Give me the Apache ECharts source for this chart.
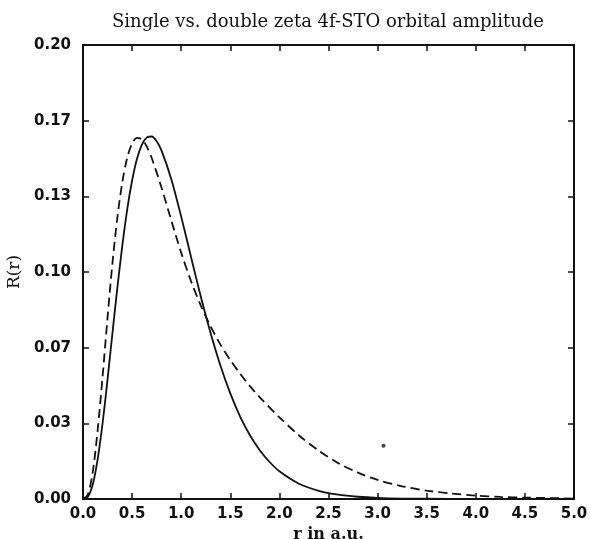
<!DOCTYPE html>
<html>
<head>
<meta charset="utf-8">
<script src="https://cdn.jsdelivr.net/npm/echarts@6/dist/echarts.min.js"></script>
<style>html,body{margin:0;padding:0;background:#fff;}#c{width:590px;height:539px;}</style>
</head>
<body>
<div id="c"></div>
<script>
// r values (a.u.)
var rSingle = [0,0.05,0.1,0.15,0.2,0.25,0.3,0.35,0.4,0.45,0.5,0.55,0.6,0.65,0.7,0.75,0.8,0.9,1.0,1.1,1.2,1.3,1.4,1.5,1.6,1.7,1.8,1.9,2.0,2.2,2.4,2.6,2.8,3.0,3.25,3.5,4.0,4.5,5.0];
var singleZeta = [0,0.0010,0.0065,0.0177,0.0336,0.0527,0.0731,0.0931,0.1115,0.1275,0.1403,0.1499,0.1561,0.1593,0.1597,0.1576,0.1535,0.1408,0.1244,0.1066,0.0891,0.0730,0.0587,0.0465,0.0363,0.0281,0.0215,0.0163,0.0122,0.0067,0.0036,0.0019,0.0010,0.0005,0.0002,0.0001,0.0000,0.0000,0.0000];
var rDouble = [0,0.05,0.1,0.15,0.2,0.25,0.3,0.35,0.4,0.45,0.5,0.55,0.6,0.65,0.7,0.8,0.9,1.0,1.1,1.2,1.3,1.4,1.5,1.6,1.7,1.8,2.0,2.2,2.4,2.6,2.8,3.0,3.25,3.5,3.75,4.0,4.25,4.5,4.75,5.0];
var doubleZeta = [0,0.0020,0.0121,0.0306,0.0542,0.0800,0.1040,0.1240,0.1395,0.1503,0.1566,0.1591,0.1584,0.1552,0.1502,0.1371,0.1226,0.1085,0.0960,0.0852,0.0760,0.0680,0.0612,0.0552,0.0497,0.0448,0.0360,0.0280,0.0213,0.0158,0.0116,0.0084,0.0056,0.0037,0.0024,0.0015,0.0009,0.0006,0.0004,0.0002];
var strayDot = [[3.06, 0.0235]];
var xTicks = ['0.0','0.5','1.0','1.5','2.0','2.5','3.0','3.5','4.0','4.5','5.0'];
var yTicks = ['0.00','0.03','0.07','0.10','0.13','0.17','0.20'];

function pairs(xs, ys){ return xs.map(function(x,i){ return [x, ys[i]]; }); }

var chart = echarts.init(document.getElementById('c'), null, {renderer:'canvas'});
var lab = {fontFamily:'DejaVu Sans', fontWeight:'bold', fontSize:15, color:'#111'};
var axisLine = {show:true, onZero:false, lineStyle:{color:'#111', width:2}};
var tick = {show:true, inside:true, length:6, lineStyle:{color:'#111', width:1.5}};
chart.setOption({
  animation:false,
  backgroundColor:'#fff',
  title:{text:'Single vs. double zeta 4f-STO orbital amplitude', left:323, top:8, textAlign:'center',
    textStyle:{fontFamily:'DejaVu Serif', fontWeight:'normal', fontSize:18, color:'#111'}},
  grid:{left:83, right:16, top:45, bottom:40, containLabel:false, outerBoundsMode:'none'},
  xAxis:[{type:'value', min:0, max:5, interval:0.5, position:'bottom',
      name:'r in a.u.', nameLocation:'middle', nameGap:22,
      nameTextStyle:{fontFamily:'DejaVu Serif', fontWeight:'bold', fontSize:16, color:'#111'},
      axisLine:axisLine, axisTick:tick, splitLine:{show:false},
      axisLabel:Object.assign({margin:8, formatter:function(v){ var i=Math.round(v/0.5); return xTicks[i]; }}, lab)},
    {type:'value', min:0, max:5, interval:0.5, position:'top',
      axisLine:axisLine, axisTick:tick, splitLine:{show:false}, axisLabel:{show:false}}],
  yAxis:[{type:'value', min:0, max:0.2, interval:0.2/6, position:'left',
      name:'R(r)', nameLocation:'middle', nameGap:60,
      nameTextStyle:{fontFamily:'DejaVu Serif', fontWeight:'normal', fontSize:17, color:'#111'},
      axisLine:axisLine, axisTick:tick, splitLine:{show:false},
      axisLabel:Object.assign({margin:12, formatter:function(v){ var i=Math.round(v/(0.2/6)); return yTicks[i]; }}, lab)},
    {type:'value', min:0, max:0.2, interval:0.2/6, position:'right',
      axisLine:axisLine, axisTick:tick, splitLine:{show:false}, axisLabel:{show:false}}],
  series:[
    {type:'line', name:'single zeta', data:pairs(rSingle, singleZeta), smooth:0.3, showSymbol:false,
      lineStyle:{color:'#111', width:1.8, type:'solid'}},
    {type:'line', name:'double zeta', data:pairs(rDouble, doubleZeta), smooth:0.3, showSymbol:false,
      lineStyle:{color:'#111', width:1.8, type:[9,5]}},
    {type:'scatter', data:strayDot, symbolSize:4, itemStyle:{color:'#111'}}
  ]
});
</script>
</body>
</html>
